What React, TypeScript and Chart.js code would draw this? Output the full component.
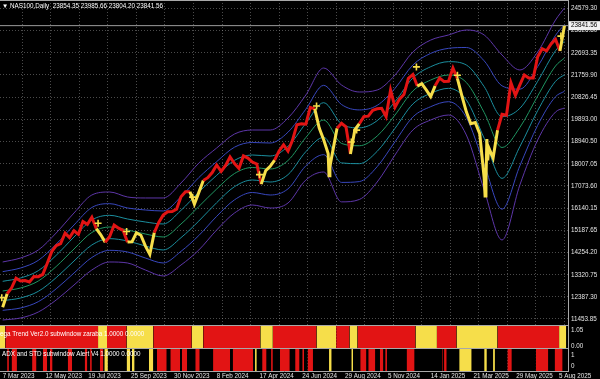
import React, { useEffect, useRef } from "react";
import { Chart, registerables } from "chart.js";
Chart.register(...registerables);

// ---------- DATA ----------
const headerText = "▼ NAS100,Daily  23854.35 23985.66 23804.20 23841.56";
const sub1Label = "ega Trend Ver2.0 subwindow zaraba 1.0000 0.0000";
const sub2Label = "ADX and STD subwindow Alert V4 1.0000 0.0000";
const lastPrice = 23841.56;

// weekly closes, one per 5 daily bars, starting at bar 0 (7 Mar 2023)
const weeklyCloses = [
  11950, 12520, 12770, 13180, 13060, 13080, 13020, 13250, 13240, 13340,
  13810, 14300, 14550, 14640, 15080, 14890, 15180, 15030, 15570, 15450,
  15750, 15270, 15010, 14690, 14940, 15420, 15290, 15200, 14700, 14710,
  15090, 14990, 14540, 14180, 15100, 15530, 15840, 15980, 15990, 16090,
  16620, 16830, 16830, 16300, 16800, 17300, 17420, 17640, 17960, 17690,
  17940, 18300, 18020, 17810, 18340, 18250, 18080, 18000, 17150, 17720,
  17900, 18160, 18550, 18810, 18540, 19000, 19660, 19700, 19680, 20390,
  20330, 19520, 19020, 18440, 18500, 19510, 19720, 19570, 18420, 19450,
  19700, 20000, 20020, 20270, 20330, 20350, 20000, 21120, 20400, 20740,
  20930, 21620, 21780, 21290, 21390, 21130, 20850, 21300, 21630, 21480,
  21490, 22050, 21600, 20880, 20200, 19700, 19750, 19280, 17400, 18700,
  18250, 19430, 20100, 20060, 21430, 20900, 21340, 21760, 21630, 21630,
  22530, 22870, 22780, 23070, 23270, 22770, 23841.56,
];
// intraweek extremes (daily spikes) : bar index and price
const spikeBars = [366, 367, 541, 542, 543, 544];
const spikePrices = [17500, 17900, 16650, 17300, 19050, 18150];

// envelope bands: outer upper / outer lower, sampled at these week numbers
const bandWeeks = [0, 4, 8, 12, 16, 20, 24, 28, 32, 36, 40, 44, 48, 52, 56, 60, 64, 68, 72, 76, 80, 84, 88, 92, 96, 100, 104, 108, 112, 116, 120, 124, 126];
const bandUpper = [13861, 14030, 14368, 15085, 15930, 16690, 16817, 16606, 16564, 16564, 17197, 18040, 18675, 19266, 19435, 19435, 19942, 20913, 22053, 21335, 21040, 21124, 21757, 22729, 23233, 23447, 23658, 23447, 22602, 21969, 22729, 24080, 24587];
const bandLower = [11411, 11496, 11749, 12256, 12889, 13523, 13861, 13819, 13523, 13270, 13734, 14368, 15212, 15930, 16268, 16141, 16352, 17324, 17661, 16400, 16500, 17239, 18379, 19435, 19857, 20068, 19224, 16901, 14790, 17113, 19013, 20195, 20364];

// bar ranges where the trend is "down" (yellow)
const trendDownRanges: [number, number][] = [
  [-3, 3], [107, 117], [139, 169], [212, 225], [289, 303], [352, 374], [389, 398], [463, 487], [509, 555], [624, 632],
];
// ADX/STD alert subwindow
const adxRedRanges: [number, number][] = [
  [5, 7], [10, 16], [33, 38], [45, 50], [53, 56], [73, 78], [92, 95], [98, 100], [109, 113],
  [173, 184], [188, 199], [201, 207], [216, 221], [236, 255], [258, 281], [291, 296], [301, 303],
  [311, 322], [328, 333], [336, 338], [342, 348], [401, 408], [410, 418], [423, 427], [429, 431],
  [453, 462], [493, 494], [495, 498], [566, 571], [598, 612], [619, 628],
];
const adxYellowRanges: [number, number][] = [
  [114, 118], [139, 143], [145, 148], [164, 169], [283, 285], [366, 369], [391, 393], [512, 526], [540, 543], [550, 552],
];

// signal crosses
const signalBars = [-1, 107, 139, 213, 288, 352, 391, 397, 464, 510, 626];
const signalPrices = [12350, 15500, 15150, 16600, 17550, 20450, 18930, 19430, 22100, 21750, 23400];

const priceTicks = [24579.3, 23626.8, 22693.35, 21759.9, 20826.45, 19893.0, 18940.5, 18007.05, 17073.6, 16140.15, 15187.65, 14254.2, 13320.75, 12387.3, 11453.85];
const dateTickBars = [0, 48, 96, 144, 192, 240, 288, 336, 384, 432, 480, 528, 576, 624];
const dateLabels = ["7 Mar 2023", "12 May 2023", "19 Jul 2023", "25 Sep 2023", "30 Nov 2023", "8 Feb 2024", "17 Apr 2024", "24 Jun 2024", "29 Aug 2024", "5 Nov 2024", "14 Jan 2025", "21 Mar 2025", "29 May 2025", "5 Aug 2025"];
const sub1Ticks = [1.05, 0];
const sub2Ticks = [1, 0];

// ---------- STYLE ----------
const RED = "#e21414";
const YELLOW = "#f6de4a";
const FONT = "Liberation Sans";
const TXT = "#e4e4e4";
const GRID = "rgba(150,150,150,0.5)";
const LINE = "#a8a8a8";
const X_MIN = -3;
const X_MAX = 634;
const BARS_PER_WEEK = 5;

const inRanges = (x: number, ranges: [number, number][]) => ranges.some(([a, b]) => x >= a && x < b);

function buildStrip(start: number, end: number, base: string, layers: { ranges: [number, number][]; color: string }[]) {
  const marks = layers
    .flatMap((l) => l.ranges.map((r) => ({ a: r[0], b: r[1], c: l.color })))
    .sort((p, q) => p.a - q.a);
  const xs: number[] = [];
  const cs: string[] = [];
  let pos = start;
  for (const m of marks) {
    const a = Math.max(m.a, pos);
    if (m.b <= a) continue;
    if (a > pos) {
      xs.push(pos);
      cs.push(base);
    }
    xs.push(a);
    cs.push(m.c);
    pos = m.b;
  }
  if (pos < end) {
    xs.push(pos);
    cs.push(base);
  }
  xs.push(end);
  return { xs, cs };
}

const overlayPlugin = {
  id: "mt4overlay",
  beforeDraw(chart: any) {
    const { ctx, width, height } = chart;
    ctx.save();
    ctx.fillStyle = "#000";
    ctx.fillRect(0, 0, width, height);
    ctx.restore();
  },
  afterDraw(chart: any) {
    const { ctx, chartArea } = chart;
    const y = chart.scales.y;
    const y1 = chart.scales.y1;
    const y2 = chart.scales.y2;
    ctx.save();
    ctx.strokeStyle = LINE;
    ctx.lineWidth = 1;
    ctx.beginPath();
    for (const yy of [0.5, Math.round(y1.top) + 0.5, Math.round(y2.top) + 0.5]) {
      ctx.moveTo(chartArea.left, yy);
      ctx.lineTo(chartArea.right, yy);
    }
    ctx.stroke();
    ctx.fillStyle = "#ffffff";
    ctx.textBaseline = "middle";
    ctx.textAlign = "left";
    ctx.font = `6.3px "${FONT}"`;
    ctx.fillText(headerText, 2, 6);
    ctx.fillText(sub1Label, 0, y1.top + 9);
    ctx.fillText(sub2Label, 2, y2.top + 6);
    const py = y.getPixelForValue(lastPrice);
    ctx.fillStyle = "#f2f2f2";
    ctx.fillRect(chartArea.right + 1, py - 4.5, 31, 9);
    ctx.fillStyle = "#000";
    ctx.fillText(lastPrice.toFixed(2), chartArea.right + 3, py);
    ctx.restore();
  },
};

const tickFont = { family: FONT, size: 6.3 };

export default function App() {
  const ref = useRef<HTMLCanvasElement>(null);
  useEffect(() => {
    document.body.style.margin = "0";
    document.body.style.background = "#000";
    const canvas = ref.current!;

    const priceData = weeklyCloses
      .map((c, i) => ({ x: i * BARS_PER_WEEK, y: c }))
      .concat(spikeBars.map((b, i) => ({ x: b, y: spikePrices[i] })))
      .sort((a, b) => a.x - b.x);
    const bandLevels = [3, 2, 1, 0, -1, -2, -3];
    const bandColors: Record<number, string> = { 3: "#5d36a8", 2: "#3847bd", 1: "#1b8e9e", 0: "#1f9461" };
    const bandDatasets = bandLevels.map((k) => ({
      data: bandWeeks.map((w, i) => {
        const mid = (bandUpper[i] + bandLower[i]) / 2;
        const half = (bandUpper[i] - bandLower[i]) / 2;
        return { x: w * BARS_PER_WEEK, y: mid + (k / 3) * half };
      }),
      borderColor: bandColors[Math.abs(k)],
      borderWidth: 1,
      pointRadius: 0,
      cubicInterpolationMode: "monotone",
      yAxisID: "y",
      xAxisID: "x",
      order: 6,
    }));

    const strip1 = buildStrip(X_MIN, 632, RED, [{ ranges: trendDownRanges, color: YELLOW }]);
    const strip2 = buildStrip(X_MIN, 632, "#000000", [
      { ranges: adxRedRanges, color: RED },
      { ranges: adxYellowRanges, color: YELLOW },
    ]);

    const subAxis = (weight: number, min: number, max: number, ticksList: number[], fmt: (v: number) => string) => ({
      type: "linear",
      position: "right",
      stack: "panels",
      stackWeight: weight,
      min,
      max,
      grid: { display: false, drawTicks: false },
      border: { display: true, color: LINE },
      ticks: {
        autoSkip: false,
        padding: 3,
        color: TXT,
        font: tickFont,
        callback: (v: any) => fmt(Number(v)),
      },
      afterBuildTicks: (s: any) => {
        s.ticks = ticksList.map((v) => ({ value: v }));
      },
      afterFit: (s: any) => {
        s.width = 32;
        s.paddingTop = 0;
        s.paddingBottom = 0;
      },
    });

    const chart = new Chart(canvas, {
      type: "line",
      data: {
        datasets: [
          ...bandDatasets,
          {
            data: [{ x: X_MIN, y: lastPrice }, { x: X_MAX, y: lastPrice }],
            borderColor: "#9c9c9c",
            borderWidth: 1,
            pointRadius: 0,
            yAxisID: "y",
            xAxisID: "x",
            order: 7,
          },
          {
            data: priceData,
            borderColor: RED,
            borderWidth: 3,
            borderJoinStyle: "miter",
            pointRadius: 0,
            tension: 0,
            segment: {
              borderColor: (c: any) =>
                inRanges((c.p0.parsed.x + c.p1.parsed.x) / 2, trendDownRanges) ? YELLOW : RED,
            },
            yAxisID: "y",
            xAxisID: "x",
            order: 2,
          },
          {
            data: signalBars.map((b, i) => ({ x: b, y: signalPrices[i] })),
            showLine: false,
            pointStyle: "cross",
            pointRadius: 3.5,
            pointBorderWidth: 1.6,
            pointBorderColor: YELLOW,
            borderColor: YELLOW,
            yAxisID: "y",
            xAxisID: "x",
            order: 1,
          },
          {
            data: strip1.xs.map((x) => ({ x, y: 1.378 })),
            borderColor: "transparent",
            borderWidth: 0,
            pointRadius: 0,
            fill: "start",
            backgroundColor: RED,
            segment: { backgroundColor: (c: any) => strip1.cs[c.p0DataIndex] },
            yAxisID: "y1",
            xAxisID: "x",
            order: 8,
          },
          {
            data: strip2.xs.map((x) => ({ x, y: 1.636 })),
            borderColor: "transparent",
            borderWidth: 0,
            pointRadius: 0,
            fill: "start",
            backgroundColor: "#000",
            segment: { backgroundColor: (c: any) => strip2.cs[c.p0DataIndex] },
            yAxisID: "y2",
            xAxisID: "x",
            order: 8,
          },
        ] as any,
      },
      options: {
        animation: false,
        responsive: false,
        devicePixelRatio: 1,
        layout: { padding: 0, autoPadding: false },
        plugins: { legend: { display: false }, tooltip: { enabled: false } },
        scales: {
          x: {
            type: "linear",
            position: "bottom",
            min: X_MIN,
            max: X_MAX,
            grid: { display: false, drawTicks: false },
            border: { display: true, color: LINE },
            ticks: {
              autoSkip: false,
              maxRotation: 0,
              align: "start",
              padding: 1,
              color: TXT,
              font: tickFont,
              callback: (v: any) => dateLabels[dateTickBars.indexOf(Number(v))] ?? "",
            },
            afterBuildTicks: (s: any) => {
              s.ticks = dateTickBars.map((v) => ({ value: v }));
            },
            afterFit: (s: any) => {
              s.height = 8;
              s.paddingLeft = 0;
              s.paddingRight = 0;
            },
          },
          xg: {
            type: "linear",
            position: "bottom",
            min: X_MIN,
            max: X_MAX,
            grid: { display: true, color: GRID, drawTicks: false },
            border: { display: false, dash: [1, 2] },
            ticks: { display: false },
            afterBuildTicks: (s: any) => {
              const t: any[] = [];
              for (let b = 22; b < X_MAX; b += 32) t.push({ value: b });
              s.ticks = t;
            },
            afterFit: (s: any) => {
              s.height = 0;
              s.paddingLeft = 0;
              s.paddingRight = 0;
            },
          },
          y: {
            type: "linear",
            position: "right",
            stack: "panels",
            stackWeight: 325,
            min: 11200,
            max: 24925,
            grid: { display: true, color: GRID, drawTicks: false },
            border: { display: true, color: LINE, dash: [1, 2] },
            ticks: {
              autoSkip: false,
              padding: 3,
              color: TXT,
              font: tickFont,
              callback: (v: any) => Number(v).toFixed(2),
            },
            afterBuildTicks: (s: any) => {
              s.ticks = priceTicks.map((v) => ({ value: v }));
            },
            afterFit: (s: any) => {
              s.width = 32;
              s.paddingTop = 0;
              s.paddingBottom = 0;
            },
          },
          y1: subAxis(23, -0.131, 1.378, sub1Ticks, (v) => v.toFixed(2)),
          y2: subAxis(23, -0.4545, 1.636, sub2Ticks, (v) => String(v)),
        },
      } as any,
      plugins: [overlayPlugin],
    });
    return () => chart.destroy();
  }, []);

  return (
    <canvas
      ref={ref}
      width={600}
      height={379}
      style={{ display: "block", width: 600, height: 379, background: "#000" }}
    />
  );
}
